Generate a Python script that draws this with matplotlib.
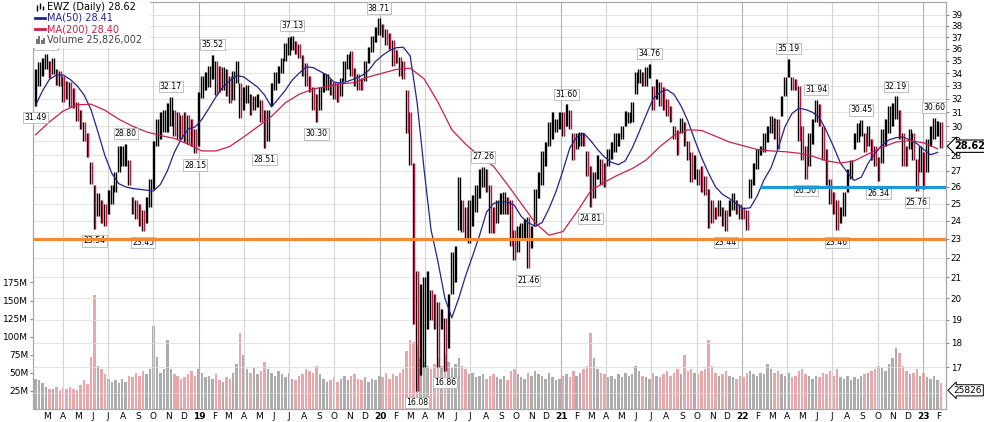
import numpy as np
import pandas as pd
import matplotlib
matplotlib.use("Agg")
from matplotlib import pyplot as plt
from matplotlib import transforms
from matplotlib.patches import Rectangle
from matplotlib.ticker import FixedLocator, NullLocator, NullFormatter

plt.rcParams['font.family'] = ['DejaVu Sans']

# weekly high / low of EWZ (first week starts 2018-02-05)
week_high = np.array([
    34.3, 34.9, 35.2, 35.55, 35.0, 35.2, 34.3, 34.2, 33.8, 33.4,
    33.3, 32.8, 31.8, 31.2, 30.3, 29.5, 27.6, 26.1, 25.6, 25.2,
    25.0, 25.8, 26.1, 26.9, 28.6, 28.6, 28.8, 27.7, 25.4, 25.2,
    25.0, 24.6, 25.4, 26.5, 29.0, 30.5, 31.0, 31.2, 31.7, 32.17,
    31.2, 31.0, 30.8, 31.0, 30.8, 30.5, 29.8, 32.5, 33.8, 34.1,
    34.6, 35.52, 35.0, 34.6, 34.5, 34.3, 33.8, 34.2, 35.0, 33.2,
    32.9, 33.1, 32.4, 32.2, 32.4, 31.9, 31.2, 31.2, 33.2, 34.1,
    34.6, 35.2, 36.5, 37.0, 37.13, 36.7, 36.4, 35.5, 34.8, 33.8,
    32.9, 32.4, 32.9, 34.0, 33.9, 33.5, 33.3, 33.2, 33.6, 35.0,
    35.6, 35.8, 34.4, 33.9, 33.6, 35.0, 36.2, 37.1, 37.9, 38.71,
    38.2, 37.7, 37.4, 36.8, 35.9, 35.3, 35.0, 32.7, 31.0, 27.5,
    21.3, 20.7, 21.0, 21.3, 20.4, 20.2, 19.8, 19.5, 19.1, 20.2,
    22.3, 22.6, 26.6, 25.2, 24.8, 25.2, 25.5, 26.1, 27.1, 27.26,
    27.1, 26.1, 24.8, 25.2, 25.6, 25.7, 25.4, 25.2, 23.5, 23.7,
    23.9, 24.1, 24.2, 23.7, 25.9, 26.9, 28.3, 28.9, 30.3, 31.0,
    30.5, 31.0, 31.0, 31.60, 31.2, 29.5, 29.5, 29.6, 29.5, 28.3,
    27.3, 26.9, 28.0, 27.8, 27.5, 28.4, 28.9, 29.5, 29.5, 30.0,
    31.1, 31.0, 31.8, 34.1, 34.3, 34.1, 34.5, 34.76, 33.0, 33.5,
    33.3, 32.9, 32.0, 31.5, 30.0, 29.7, 30.6, 30.3, 29.0, 28.2,
    28.0, 27.1, 27.3, 26.7, 25.9, 25.2, 24.8, 25.2, 24.8, 24.6,
    25.2, 25.6, 25.2, 25.0, 24.8, 24.6, 26.5, 27.5, 28.4, 28.6,
    29.5, 30.0, 30.7, 30.6, 30.5, 32.2, 33.7, 35.19, 33.7, 33.5,
    33.0, 30.0, 28.6, 29.5, 30.5, 31.94, 31.6, 30.0, 28.4, 26.5,
    25.7, 25.2, 24.8, 25.7, 27.1, 27.7, 29.5, 30.2, 30.45, 29.5,
    30.0, 29.1, 28.6, 27.9, 29.8, 30.5, 31.5, 31.7, 32.19, 31.2,
    29.5, 28.6, 29.8, 29.5, 27.8, 28.6, 28.2, 29.1, 30.0, 30.60,
    30.4, 30.3,
])
week_low = np.array([
    31.49, 33.0, 33.8, 34.3, 33.6, 33.9, 33.1, 33.0, 31.8, 32.0,
    31.4, 31.3, 30.4, 29.8, 29.0, 27.9, 26.2, 23.54, 24.3, 23.9,
    23.7, 24.4, 25.0, 25.7, 26.9, 27.3, 27.3, 26.1, 24.4, 24.1,
    23.7, 23.45, 23.9, 24.8, 25.9, 28.6, 29.1, 29.6, 29.6, 30.0,
    29.3, 29.1, 29.1, 28.9, 28.8, 28.6, 28.15, 28.6, 32.1, 32.7,
    32.9, 33.5, 32.3, 32.5, 32.7, 32.2, 31.7, 31.9, 33.2, 30.6,
    31.2, 31.7, 30.8, 31.2, 31.4, 30.3, 28.51, 29.0, 31.5, 32.7,
    33.2, 34.0, 35.0, 35.5, 35.9, 35.6, 35.2, 33.8, 33.0, 32.5,
    31.2, 30.30, 31.2, 32.5, 32.7, 32.3, 32.0, 31.8, 32.2, 33.4,
    34.3, 33.8, 33.0, 32.7, 32.7, 33.4, 34.8, 35.7, 36.6, 37.2,
    37.0, 36.3, 36.0, 34.6, 34.8, 33.8, 33.5, 29.5, 27.4, 18.8,
    16.08, 16.7, 17.0, 18.6, 19.0, 18.6, 17.0, 18.6, 16.86, 17.8,
    20.2, 20.8, 23.5, 23.4, 23.0, 22.8, 23.7, 24.5, 25.3, 26.0,
    25.7, 23.3, 23.3, 23.9, 24.4, 24.4, 24.4, 22.6, 21.9, 22.3,
    23.0, 23.0, 21.46, 22.5, 23.7, 25.3, 26.1, 27.3, 28.6, 29.1,
    29.6, 29.8, 29.3, 30.0, 29.8, 27.7, 28.4, 28.6, 28.6, 26.7,
    24.81, 25.3, 26.5, 26.1, 26.0, 27.3, 27.8, 28.2, 28.6, 29.1,
    30.0, 30.2, 30.3, 32.4, 33.2, 33.0, 33.0, 33.6, 31.2, 32.0,
    31.5, 31.2, 30.7, 30.3, 29.1, 28.0, 29.5, 28.6, 27.7, 26.3,
    26.5, 26.1, 25.7, 25.5, 23.6, 23.9, 24.1, 24.3, 23.7, 23.44,
    24.3, 24.6, 24.4, 24.1, 24.1, 23.5, 25.3, 26.1, 27.1, 28.0,
    28.2, 28.9, 29.5, 29.1, 28.4, 30.7, 32.2, 33.7, 32.7, 32.7,
    29.0, 27.7, 26.50, 27.3, 28.8, 30.3, 30.0, 27.7, 26.1, 25.0,
    24.4, 23.46, 23.9, 24.3, 25.7, 26.5, 28.4, 28.9, 29.3, 28.2,
    28.6, 27.7, 27.3, 26.34, 27.5, 28.6, 29.5, 30.0, 30.5, 29.1,
    27.3, 27.3, 28.4, 27.7, 25.76, 26.9, 25.9, 26.9, 28.6, 29.1,
    29.3, 28.5,
])
# daily volume level per week, millions
week_volume = np.array([
    42, 40, 36, 30, 28, 27, 30, 26, 29, 27,
    31, 28, 26, 33, 40, 35, 72, 158, 60, 55,
    48, 42, 38, 40, 36, 42, 38, 45, 44, 50,
    46, 52, 48, 55, 115, 72, 50, 55, 95, 55,
    48, 45, 42, 44, 48, 52, 45, 55, 50, 44,
    46, 42, 48, 40, 38, 44, 42, 50, 62, 105,
    75, 55, 50, 58, 48, 52, 65, 55, 50, 45,
    52, 48, 44, 50, 42, 40, 46, 48, 55, 52,
    50, 60, 48, 42, 38, 40, 44, 38, 42, 46,
    40, 45, 48, 42, 40, 44, 38, 42, 40, 46,
    44, 50, 42, 48, 45, 50, 55, 80, 95, 92,
    88, 70, 65, 60, 55, 62, 70, 60, 75, 65,
    58, 62, 70, 60, 55, 48, 50, 44, 46, 48,
    42, 45, 48, 44, 42, 46, 40, 52, 55, 48,
    44, 42, 50, 46, 52, 48, 45, 42, 50, 44,
    40, 42, 46, 48, 44, 52, 46, 50, 55, 60,
    105, 70, 55, 50, 48, 44, 46, 42, 48, 44,
    50, 45, 48, 60, 52, 46, 44, 42, 50, 46,
    44, 48, 52, 46, 50, 55, 48, 75, 52, 55,
    50, 48, 52, 55, 95, 60, 50, 45, 48, 52,
    46, 44, 42, 46, 44, 50, 52, 48, 46, 50,
    48, 62, 55, 50, 52, 48, 46, 50, 44, 46,
    52, 55, 48, 45, 42, 46, 44, 50, 48, 52,
    46, 55, 44, 42, 46, 40, 44, 42, 46, 48,
    50, 52, 55, 60, 58, 52, 62, 70, 85, 78,
    60, 52, 48, 50, 55, 46, 50, 44, 42, 45,
    40, 36,
])
# MA(50), every second week
ma50 = np.array([
    31.5, 32.6, 33.5, 33.85, 33.85, 33.5, 33.0, 32.3, 31.2, 29.6,
    28.0, 26.85, 26.2, 26.0, 25.9, 25.85, 25.8, 25.75, 26.15, 27.0,
    28.2, 29.1, 29.8, 29.95, 30.5, 31.3, 32.15, 32.9, 33.4, 33.8,
    33.7, 33.3, 32.9, 32.3, 31.4, 32.0, 32.65, 33.45, 34.0, 34.5,
    34.45, 34.15, 33.85, 33.3, 33.2, 33.35, 33.55, 33.8, 34.2, 34.95,
    35.45, 35.85, 36.1, 36.15, 35.4, 31.7, 27.1, 23.5, 21.8, 20.0,
    19.1, 20.0, 21.1, 22.1, 23.2, 24.5, 25.0, 25.1, 25.1, 24.9,
    24.25, 23.9, 23.7, 23.9, 24.7, 25.7, 27.0, 28.5, 29.25, 29.5,
    29.0, 28.4, 27.9, 27.55, 27.4, 27.65, 28.5, 29.6, 30.8, 32.0,
    32.5, 32.7, 32.35, 31.5, 30.4, 29.05, 27.85, 26.85, 26.0, 25.55,
    25.3, 25.0, 24.7, 24.75, 25.45, 26.45, 27.2, 28.45, 29.95, 30.9,
    31.3, 31.2, 31.0, 30.6, 29.65, 28.6, 27.5, 26.9, 26.4, 26.6,
    27.5, 28.15, 28.7, 29.05, 29.2, 29.25, 29.05, 28.8, 28.4, 28.05,
    28.2,
])
# MA(200), every fourth week
ma200 = np.array([
    29.4, 30.3, 31.1, 31.55, 31.6, 31.15, 30.5, 30.0, 29.6, 29.35,
    29.15, 28.75, 28.3, 28.3, 28.6, 29.25, 29.95, 30.7, 31.7, 32.35,
    32.75, 32.95, 33.15, 33.25, 33.7, 34.0, 34.3, 34.4, 33.55, 31.75,
    29.75, 28.75, 27.95, 27.3, 26.15, 25.0, 23.9, 23.2, 23.4, 24.5,
    25.75, 26.3, 26.75, 27.15, 27.7, 28.6, 29.35, 29.75, 29.7, 29.3,
    28.9, 28.65, 28.4, 28.3, 28.25, 28.15, 27.95, 27.65, 27.5, 27.65,
    28.1, 28.55, 28.9, 29.0, 28.85, 28.45,
])

peak_weeks = [3, 26, 39, 51, 74, 99, 129, 153, 177, 217, 225, 238, 248, 259]
trough_weeks = [0, 17, 31, 46, 66, 81, 110, 118, 142, 160, 199, 222, 231, 243, 254]

support_low = 23
support_high = 26
support_high_from = "2022-02-05"

last_close = 28.62
last_ma50 = 28.41
last_ma200 = 28.40
last_volume = 25826002

weeks = pd.date_range("2018-02-05", periods=len(week_high), freq="W-MON")
month_starts = pd.date_range("2018-03-01", "2023-02-01", freq="MS")
quarter_starts = pd.date_range("2018-04-01", "2023-01-01", freq="QS")
x_from, x_to = pd.Timestamp("2018-01-31"), pd.Timestamp("2023-02-16")

mid = (week_high + week_low) / 2
up = np.r_[True, mid[1:] >= mid[:-1]]
bar_colors = np.where(up, "black", "#c4123f")
vol_colors = np.where(up, "#acacac", "#e8a8ab")

fig = plt.figure(figsize=(9.84, 4.22), dpi=100)
ax_v = fig.add_axes([33 / 984, 13 / 422, 913 / 984, 407 / 422])
ax = ax_v.twinx()

ax_v.bar(weeks, week_volume, width=5, color=vol_colors, linewidth=0, zorder=2)
ax_v.set_ylim(0, 563)

for p in range(16, 40):
    ax.axhline(p, color="#dedede", lw=0.6, zorder=0)
for q in quarter_starts:
    ax.axvline(q, color="#b2b2b2" if q.month == 1 else "#d4d4d4", lw=0.8, zorder=0)

# each week drawn as two thin strokes: a black one and one coloured by direction
left = weeks - pd.Timedelta(days=1.6)
right = weeks + pd.Timedelta(days=1.6)
ax.vlines(left, week_low, week_high, colors="black", lw=1.0, zorder=3)
ax.vlines(right, week_low, week_high, colors=bar_colors, lw=1.0, zorder=3)
ax.plot(weeks[::2], ma50, color="#23238c", lw=0.9, zorder=4)
ax.plot(weeks[::4], ma200, color="#c8204e", lw=0.9, zorder=4)

box = dict(boxstyle="square,pad=0.15", fc="white", ec="#b5b5b5", lw=0.6)
for i in peak_weeks:
    ax.annotate(f"{week_high[i]:.2f}", xy=(weeks[i], week_high[i]), xytext=(0, 7.2),
                textcoords="offset points", ha="center", va="center", fontsize=5.6,
                bbox=box, zorder=5, annotation_clip=False)
for i in trough_weeks:
    ax.annotate(f"{week_low[i]:.2f}", xy=(weeks[i], week_low[i]), xytext=(0, -8.6),
                textcoords="offset points", ha="center", va="center", fontsize=5.6,
                bbox=box, zorder=5, annotation_clip=False)

ax.axhline(support_low, color="#f18935", lw=2.3, zorder=6)
ax.hlines(support_high, pd.Timestamp(support_high_from), x_to, color="#1b9ad6", lw=2.3, zorder=6)

ax.set_yscale("log")
ax.set_ylim(15.40, 40.21)
ax.yaxis.set_major_locator(FixedLocator(list(range(17, 40))))
ax.yaxis.set_minor_locator(NullLocator())
ax.yaxis.set_minor_formatter(NullFormatter())
ax.set_yticklabels([str(v) for v in range(17, 40)])
ax.tick_params(axis="y", length=2.5, pad=1, labelsize=6.3, color="#888888")

ax_v.set_yticks([25, 50, 75, 100, 125, 150, 175])
ax_v.set_yticklabels([f"{v}M" for v in [25, 50, 75, 100, 125, 150, 175]])
ax_v.tick_params(axis="y", length=2.5, pad=1, labelsize=6.5, color="#888888")

ax_v.set_xticks(month_starts.to_pydatetime())
ax_v.set_xticklabels([f"{d.year % 100:02d}" if d.month == 1 else d.strftime("%b")[0]
                      for d in month_starts])
for lab, d in zip(ax_v.get_xticklabels(), month_starts):
    if d.month == 1:
        lab.set_fontweight("bold")
        lab.set_fontsize(7.5)
ax_v.tick_params(axis="x", length=0, pad=2.5, labelsize=6.5)
ax_v.set_xlim(x_from, x_to)

for a in (ax, ax_v):
    for s in a.spines.values():
        s.set_color("#a8a8a8")
        s.set_linewidth(0.8)

# legend block in the top left corner
ax.add_patch(Rectangle((0, 0.887), 0.128, 0.113, transform=ax.transAxes,
                       fc="white", ec="none", zorder=7))
tx = 0.0153
ax.text(tx, 0.987, f"EWZ (Daily) {last_close:.2f}", transform=ax.transAxes,
        fontsize=7, va="center", zorder=8)
ax.text(tx, 0.9614, f"MA(50) {last_ma50:.2f}", transform=ax.transAxes,
        fontsize=7, va="center", color="#23238c", zorder=8)
ax.text(tx, 0.9329, f"MA(200) {last_ma200:.2f}", transform=ax.transAxes,
        fontsize=7, va="center", color="#c8204e", zorder=8)
ax.text(tx, 0.9066, f"Volume {last_volume:,}", transform=ax.transAxes,
        fontsize=7, va="center", color="#444444", zorder=8)
ax.vlines([0.004, 0.0075, 0.011], [0.978, 0.982, 0.980], [0.993, 0.997, 0.991],
          transform=ax.transAxes, colors="black", lw=1.0, zorder=8)
ax.plot([0.002, 0.013], [0.9614, 0.9614], transform=ax.transAxes, color="#23238c", lw=2, zorder=8)
ax.plot([0.002, 0.013], [0.9329, 0.9329], transform=ax.transAxes, color="#c8204e", lw=2, zorder=8)
ax.vlines([0.004, 0.0068, 0.0096, 0.0124], 0.898, [0.910, 0.916, 0.906, 0.912],
          transform=ax.transAxes, colors="#666666", lw=1.3, zorder=8)

# current value flags on the right edge
tr = transforms.blended_transform_factory(ax.transAxes, ax.transData)
ax.text(1.0085, last_close, f"{last_close:.2f}", transform=tr, ha="left", va="center",
        fontsize=7, fontweight="bold", zorder=10, clip_on=False,
        bbox=dict(boxstyle="larrow,pad=0.12", fc="white", ec="black", lw=0.8))
trv = transforms.blended_transform_factory(ax_v.transAxes, ax_v.transData)
ax_v.text(1.0085, last_volume / 1e6, f"{last_volume // 1000}", transform=trv, ha="left",
          va="center", fontsize=6.5, zorder=10, clip_on=False,
          bbox=dict(boxstyle="larrow,pad=0.12", fc="white", ec="black", lw=0.7))

fig.savefig("out.png", dpi=100)
